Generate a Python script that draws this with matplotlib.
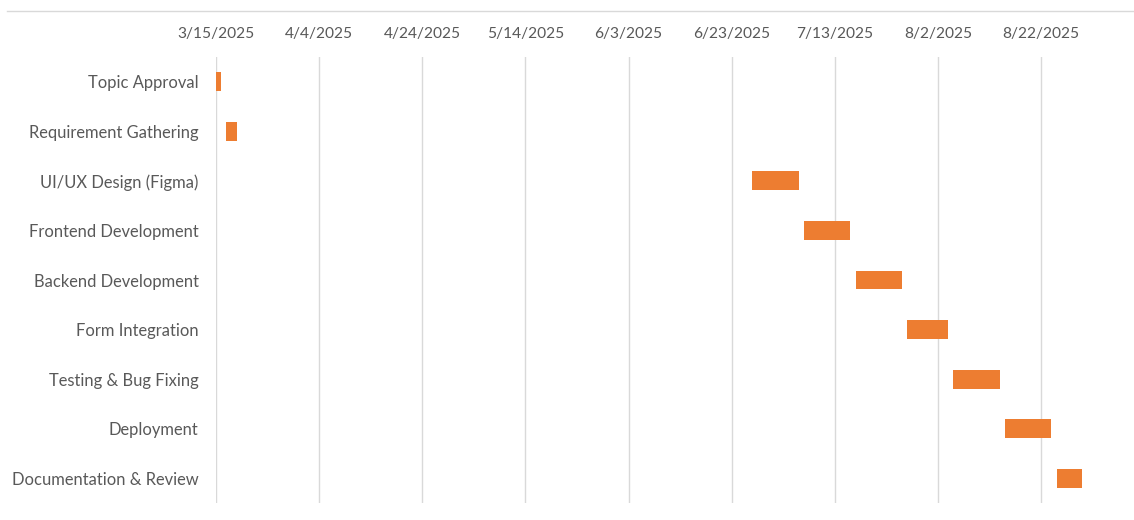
import matplotlib
matplotlib.use('Agg')
import matplotlib.pyplot as plt
import matplotlib.dates as mdates
from matplotlib.lines import Line2D
import pandas as pd

tasks = ['Topic Approval', 'Requirement Gathering', 'UI/UX Design (Figma)',
         'Frontend Development', 'Backend Development', 'Form Integration',
         'Testing & Bug Fixing', 'Deployment', 'Documentation & Review']
start_dates = ['2025-03-15', '2025-03-17', '2025-06-27', '2025-07-07', '2025-07-17',
               '2025-07-27', '2025-08-05', '2025-08-15', '2025-08-25']
durations = [1, 2, 9, 9, 9, 8, 9, 9, 5]
tick_dates = pd.date_range('2025-03-15', periods=9, freq='20D')

plt.rcParams['font.family'] = ['Lato', 'DejaVu Sans']
grey = '#595959'
bar_color = '#ED7D31'

starts = mdates.date2num(pd.to_datetime(start_dates))

fig = plt.figure(figsize=(11.34, 5.2), dpi=100)
ax = fig.add_axes([216 / 1134, 1 - 503 / 520, 1 - 216 / 1134, (503 - 57) / 520])

ax.barh(range(len(tasks)), durations, left=starts, height=0.38, color=bar_color, zorder=3)

x0 = mdates.date2num(pd.Timestamp('2025-03-15'))
ax.set_xlim(x0, x0 + 178)
ax.set_ylim(len(tasks) - 0.5, -0.5)

ax.set_xticks(mdates.date2num(tick_dates))
ax.set_xticklabels([f'{d.month}/{d.day}/{d.year}' for d in tick_dates])
ax.xaxis.tick_top()
ax.set_yticks(range(len(tasks)))
ax.set_yticklabels(tasks)

ax.tick_params(axis='x', length=0, pad=11.5, labelsize=11.2, colors=grey)
ax.tick_params(axis='y', length=0, pad=12.5, labelsize=11.9, colors=grey)
ax.grid(axis='x', color='#D9D9D9', linewidth=1, zorder=0)
for s in ax.spines.values():
    s.set_visible(False)

fig.add_artist(Line2D([7 / 1134, 1], [1 - 10.5 / 520, 1 - 10.5 / 520],
                      color='#D9D9D9', linewidth=1))

fig.savefig('out.png', dpi=100)
